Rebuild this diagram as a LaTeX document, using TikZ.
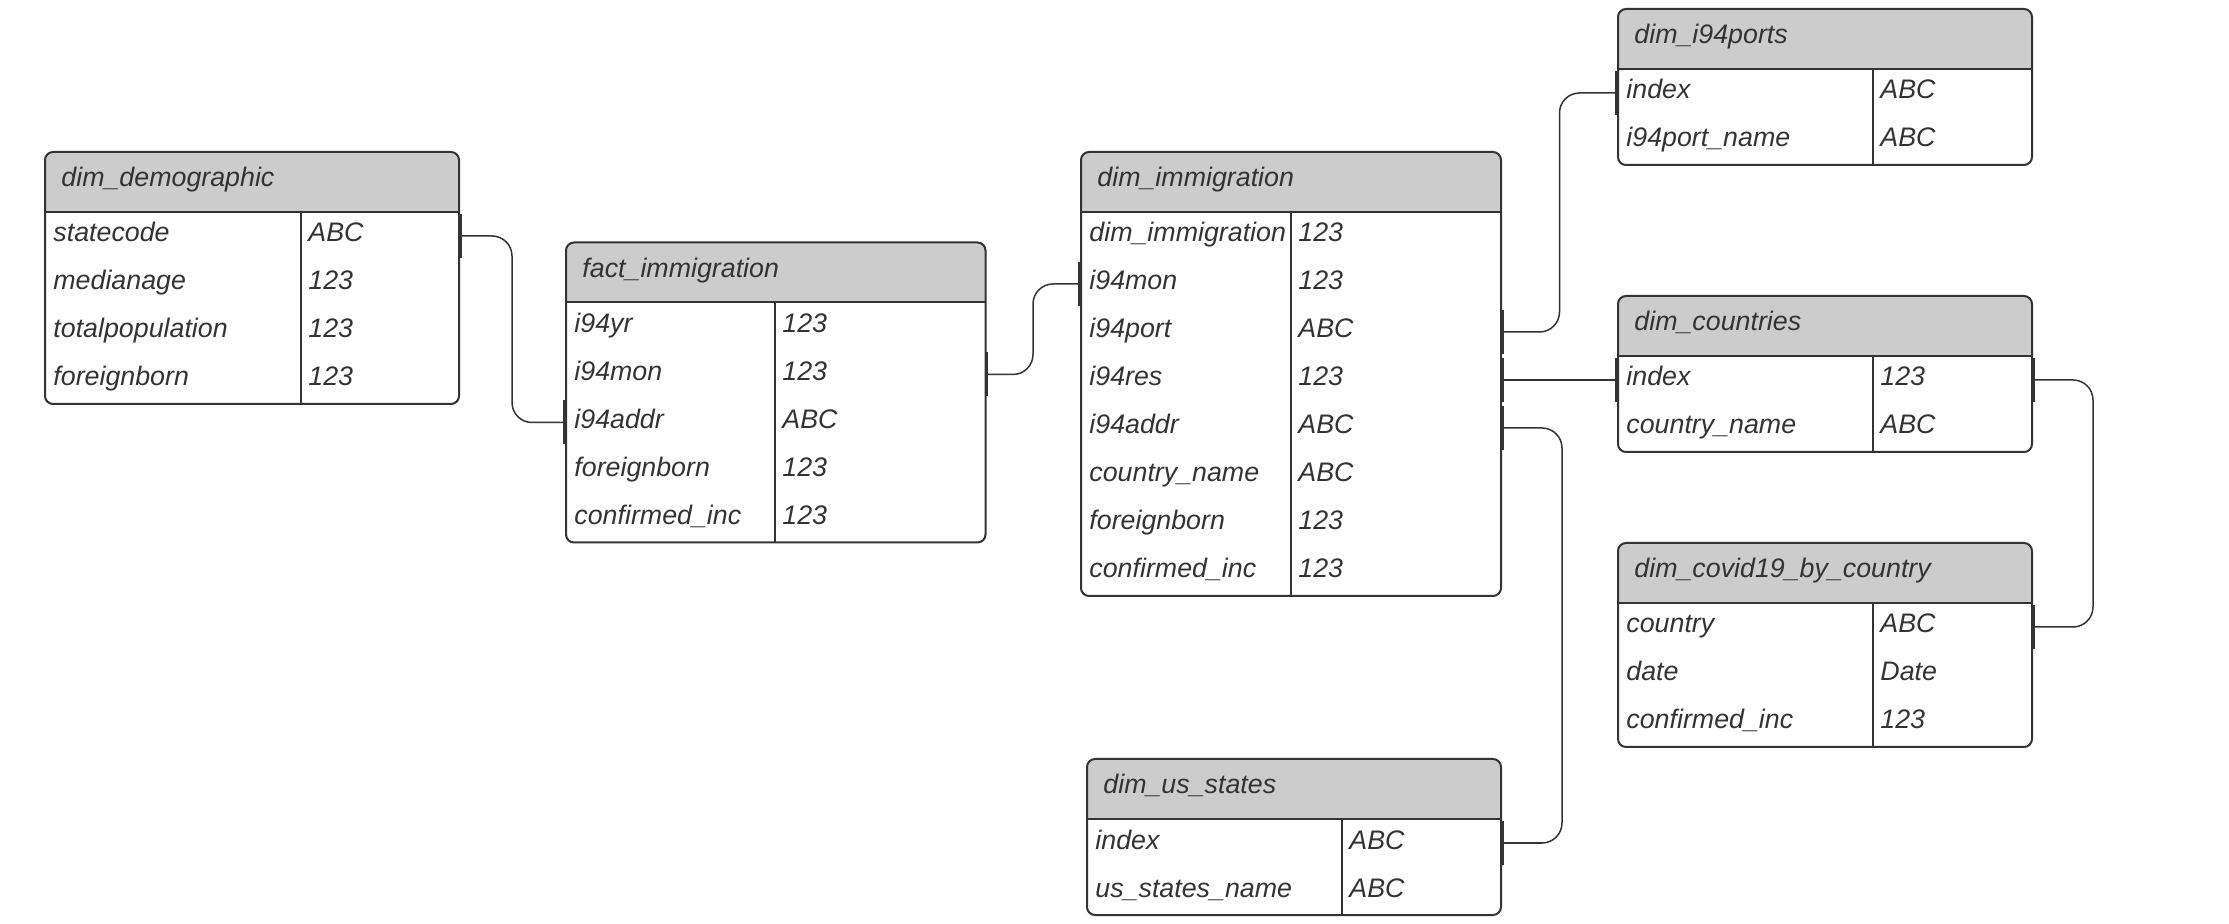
\documentclass[tikz,border=0pt]{standalone}
\usepackage{fontspec}
\setmainfont{Liberation Sans}
\definecolor{linec}{HTML}{333333}
\definecolor{hdrc}{HTML}{CCCCCC}
\definecolor{txtc}{HTML}{333333}
\tikzset{
  tblborder/.style={draw=linec, line width=1pt, rounded corners=4pt, inner sep=0pt, outer sep=0pt, anchor=north west},
  sepline/.style={draw=linec, line width=1pt},
  divline/.style={draw=linec, line width=0.75pt},
  rowcell/.style={inner sep=0pt, outer sep=0pt, minimum height=24pt, anchor=north west},
  txt/.style={anchor=base west, inner sep=0pt, text=txtc, font=\itshape\fontsize{13.4}{16}\selectfont},
  link/.style={draw=linec, line width=0.75pt, rounded corners=10pt},
  stubbar/.style={draw=linec, line width=1.5pt},
}
\newcommand\ertable[8]{%
  \pgfmathsetmacro\tblh{60+48*#6}%
  \begin{scope}
    \clip[rounded corners=4pt] (#2,#3) rectangle (#2+#4,#3+\tblh);
    \fill[hdrc] (#2,#3) rectangle (#2+#4,#3+60);
  \end{scope}
  \draw[sepline] (#2,#3+60) -- (#2+#4,#3+60);
  \draw[divline] (#2+#5,#3+60) -- (#2+#5,#3+\tblh);
  \node[tblborder, minimum width=#4*0.5pt, minimum height=\tblh*0.5pt] (#1) at (#2,#3) {};
  \node[txt] (#1-title) at (#2+16,#3+35) {#7};
  \foreach \fa/\fb [count=\i] in {#8} {
    \node[rowcell, minimum width=#4*0.5pt] (#1-\i) at (#2,#3+12+48*\i) {};
    \node[txt] (#1-\i-n) at (#2+8,#3+42+48*\i) {\fa};
    \node[txt] (#1-\i-t) at (#2+#5+7,#3+42+48*\i) {\fb};
  }%
}
\newcommand\stubE[1]{\draw[stubbar] ([xshift=0.6pt,yshift=11pt]#1.east) -- ([xshift=0.6pt,yshift=-11pt]#1.east);}
\newcommand\stubW[1]{\draw[stubbar] ([xshift=-0.6pt,yshift=11pt]#1.west) -- ([xshift=-0.6pt,yshift=-11pt]#1.west);}
\begin{document}
\begin{tikzpicture}[x=0.5pt,y=-0.5pt]
\useasboundingbox[fill=white] (0,0) rectangle (2229,924);

\ertable{demo}{45}{152}{414}{256}{4}{dim\_demographic}{statecode/ABC, medianage/123, totalpopulation/123, foreignborn/123}
\ertable{fact}{566}{242.5}{419.5}{209}{5}{fact\_immigration}{i94yr/123, i94mon/123, i94addr/ABC, foreignborn/123, confirmed\_inc/123}
\ertable{imm}{1081}{152}{420}{210}{8}{dim\_immigration}{dim\_immigration/123, i94mon/123, i94port/ABC, i94res/123, i94addr/ABC, country\_name/ABC, foreignborn/123, confirmed\_inc/123}
\ertable{ports}{1618}{9}{414}{255}{2}{dim\_i94ports}{index/ABC, i94port\_name/ABC}
\ertable{cty}{1618}{296}{414}{255}{2}{dim\_countries}{index/123, country\_name/ABC}
\ertable{cov}{1618}{543}{414}{255}{3}{dim\_covid19\_by\_country}{country/ABC, date/Date, confirmed\_inc/123}
\ertable{us}{1087}{759}{414}{255}{2}{dim\_us\_states}{index/ABC, us\_states\_name/ABC}

\draw[link] (demo-1.east) -- ++(53,0) |- (fact-3.west);
\draw[link] (fact-2.east) -- ++(47.5,0) |- (imm-2.west);
\draw[link] (imm-3.east) -- ++(58.5,0) |- (ports-1.west);
\draw[link] (imm-4.east) -- (cty-1.west);
\draw[link] (imm-5.east) -- ++(61,0) |- (us-1.east);
\draw[link] (cty-1.east) -- ++(61,0) |- (cov-1.east);

\stubE{demo-1} \stubW{fact-3}
\stubE{fact-2} \stubW{imm-2}
\stubE{imm-3} \stubW{ports-1}
\stubE{imm-4} \stubW{cty-1}
\stubE{imm-5} \stubE{us-1}
\stubE{cty-1} \stubE{cov-1}
\end{tikzpicture}
\end{document}
